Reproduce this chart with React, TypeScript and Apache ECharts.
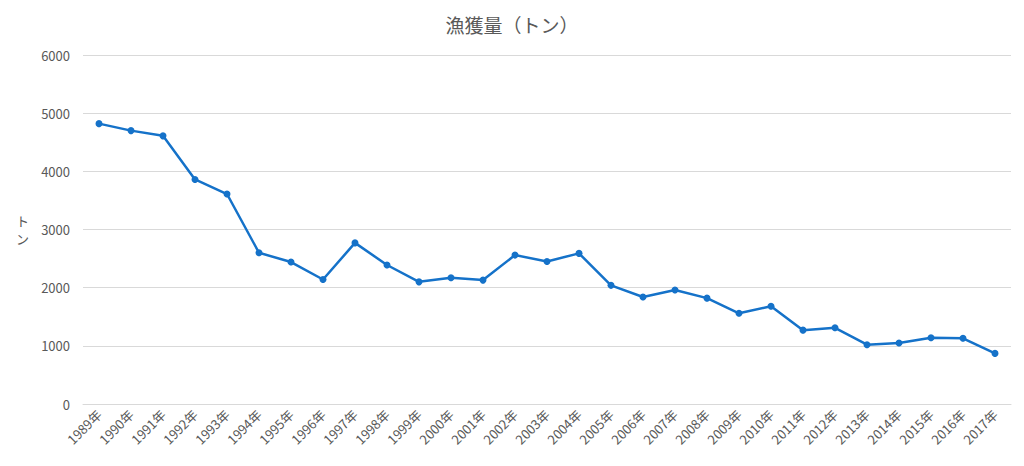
import React, { useEffect, useRef } from "react";
import * as echarts from "echarts";

const years = [
  "1989年", "1990年", "1991年", "1992年", "1993年", "1994年", "1995年", "1996年",
  "1997年", "1998年", "1999年", "2000年", "2001年", "2002年", "2003年", "2004年",
  "2005年", "2006年", "2007年", "2008年", "2009年", "2010年", "2011年", "2012年",
  "2013年", "2014年", "2015年", "2016年", "2017年",
];
const catch_tons = [
  4820, 4700, 4610, 3860, 3610, 2600, 2440, 2140,
  2770, 2390, 2100, 2170, 2130, 2560, 2450, 2590,
  2040, 1840, 1960, 1820, 1560, 1680, 1270, 1310,
  1020, 1050, 1140, 1130, 870,
];
const title = "漁獲量（トン）";
const yNameChars = ["ト", "ン"];

export default function App() {
  const ref = useRef<HTMLDivElement>(null);
  useEffect(() => {
    document.body.style.margin = "0";
    const chart = echarts.init(ref.current!, null, { renderer: "svg" });
    const font = "'Noto Sans CJK JP', 'Open Sans', sans-serif";
    chart.setOption({
      animation: false,
      textStyle: { fontFamily: font },
      title: {
        text: title,
        left: "center",
        top: 10,
        textStyle: { fontSize: 19, fontWeight: "normal", color: "#595959", fontFamily: font },
      },
      grid: { left: 83, right: 13, top: 55, bottom: 62 },
      xAxis: {
        type: "category",
        data: years,
        boundaryGap: true,
        axisLine: { show: true, lineStyle: { color: "#d9d9d9" } },
        axisTick: { show: false },
        axisLabel: { rotate: 45, color: "#595959", fontSize: 13, margin: 8, interval: 0 },
      },
      yAxis: {
        type: "value",
        min: 0,
        max: 6000,
        interval: 1000,
        axisLine: { show: false },
        axisTick: { show: false },
        axisLabel: { color: "#595959", fontSize: 13, margin: 13, formatter: (v: number) => String(v) },
        splitLine: { lineStyle: { color: "#d9d9d9", width: 1 } },
      },
      graphic: yNameChars.map((ch, i) => ({
        type: "text",
        left: 16,
        top: 214 + i * 18,
        style: { text: ch, fill: "#595959", font: `13px ${font}` },
      })),
      series: [
        {
          type: "line",
          data: catch_tons,
          symbol: "circle",
          symbolSize: 7,
          lineStyle: { color: "#1572C9", width: 2.5 },
          itemStyle: { color: "#1572C9" },
        },
      ],
    });
    return () => chart.dispose();
  }, []);
  return <div ref={ref} style={{ width: 1024, height: 466 }} />;
}
